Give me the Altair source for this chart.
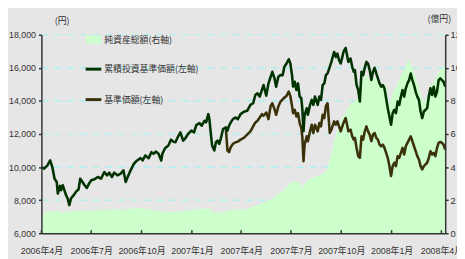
import altair as alt
import pandas as pd

start_date = "2006-04-01"

# 累積投資基準価額 (days since start, yen)
c_days = [0, 5, 11, 16, 20, 24, 28, 30, 34, 36, 39, 43, 45, 48, 51, 54, 59, 63, 68, 71, 75, 79, 83, 87, 91, 97,
          103, 109, 115, 120, 124, 129, 133, 139, 145, 150, 154, 159, 163, 169, 175, 181, 185, 190, 196, 201, 205,
          209, 214, 219, 221, 226, 232, 237, 241, 245, 250, 254, 259, 263, 268, 274, 279, 283, 289, 293, 298, 301,
          305, 307, 310, 312, 316, 319, 322, 325, 328, 332, 337, 340, 343, 346, 350, 355, 359, 364, 370, 376, 382,
          387, 391, 395, 399, 403, 406, 411, 415, 419, 422, 426, 429, 433, 437, 441, 444, 448, 452, 455, 458, 460,
          463, 466, 469, 472, 475, 477, 479, 481, 485, 487, 491, 494, 497, 500, 505, 508, 511, 514, 517, 520, 523,
          527, 530, 535, 538, 541, 544, 547, 550, 552, 556, 558, 561, 565, 568, 571, 573, 576, 579, 582, 585, 588,
          591, 594, 597, 600, 603, 606, 609, 612, 615, 618, 621, 624, 627, 630, 633, 636, 639, 642, 645, 648, 651,
          654, 657, 660, 663, 666, 669, 672, 675, 678, 681, 684, 687, 690, 693, 696, 699, 702, 705, 708, 711, 714,
          717, 720, 723, 726, 729, 732, 735, 738]
c_values = [10000, 9900, 10100, 10400, 10000, 9300, 9100, 8400, 8860, 8600, 8900, 8500, 8300, 8100, 7700, 8100,
            8300, 8500, 8660, 9300, 9100, 8900, 8740, 9000, 9200, 9260, 9400, 9300, 9700, 9500, 9660, 9400, 9660,
            9500, 9600, 9800, 9100, 9500, 9800, 10200, 10400, 10540, 10400, 10700, 10540, 10900, 10800, 10940,
            10800, 10400, 10800, 11140, 11300, 11660, 11540, 11500, 11860, 12100, 11600, 11740, 12000, 12200, 12100,
            12540, 12660, 12500, 12800, 12700, 13200, 12900, 11900, 11300, 11000, 11500, 11600, 11400, 11740, 12300,
            12400, 12200, 12500, 12700, 12900, 13000, 12900, 13200, 13340, 13400, 13760, 13860, 14360, 14460, 14260,
            14660, 14960, 14320, 15060, 15460, 15760, 15360, 14860, 15460, 15560, 15560, 16060, 16260, 16520, 16260,
            15560, 14860, 15160, 14660, 15060, 14260, 14160, 13460, 12160, 13160, 13560, 13160, 13760, 14060, 13760,
            14260, 13760, 14260, 14060, 14960, 15060, 15560, 15660, 16060, 16360, 16960, 16660, 16860, 16460, 16260,
            16660, 16960, 17200, 16860, 16360, 16560, 16060, 15760, 15860, 14960, 14660, 13960, 15760, 15560, 16000,
            16360, 16260, 15860, 15260, 15760, 16000, 15660, 15360, 15060, 14860, 14960, 14760, 14160, 13560, 13060,
            12560, 13260, 13460, 13260, 13960, 13760, 14260, 14660, 14260, 14760, 15060, 15260, 15660, 15260, 14960,
            14560, 14260, 14060, 13360, 12960, 13360, 13460, 13560, 14260, 14760, 14360, 14860, 14260, 14560, 15260,
            15360, 15260, 15160, 14860]

# 基準価額 (days since start, yen) — identical to the line above before the first split
b_days = [337, 340, 343, 346, 350, 355, 359, 364, 370, 376, 382, 387, 391, 395, 399, 403, 406, 411, 415, 419, 422,
          426, 429, 433, 437, 441, 444, 448, 452, 455, 458, 460, 463, 466, 469, 472, 475, 477, 479, 481, 485, 487,
          491, 494, 497, 500, 505, 508, 511, 514, 517, 520, 523, 527, 530, 535, 538, 541, 544, 547, 550, 552, 556,
          558, 561, 565, 568, 571, 573, 576, 579, 582, 585, 588, 591, 594, 597, 600, 603, 606, 609, 612, 615, 618,
          621, 624, 627, 630, 633, 636, 639, 642, 645, 648, 651, 654, 657, 660, 663, 666, 669, 672, 675, 678, 681,
          684, 687, 690, 693, 696, 699, 702, 705, 708, 711, 714, 717, 720, 723, 726, 729, 732, 735, 738]
b_values = [12400, 11000, 10900, 11200, 11400, 11500, 11540, 11660, 11760, 11960, 12160, 12460, 12700, 12800, 13000,
            13200, 13100, 13300, 12900, 13700, 13860, 13500, 13160, 13660, 13960, 14100, 14200, 14300, 14560, 14300,
            13700, 13260, 13460, 13060, 13260, 12660, 12360, 11760, 10360, 11360, 11860, 11560, 12160, 12560, 12060,
            12560, 12160, 12660, 12460, 13160, 12960, 13700, 13860, 12060, 12260, 12760, 12560, 12760, 12460, 12160,
            12460, 12660, 12960, 12660, 12160, 12260, 11860, 11660, 11760, 11160, 10660, 10560, 11860, 11660, 12160,
            12460, 12160, 11960, 11560, 11960, 12060, 11760, 11660, 11360, 11260, 11360, 11160, 10860, 10560, 10060,
            9460, 10060, 10260, 10060, 10660, 10560, 10860, 11160, 10760, 11260, 11460, 11660, 11860, 11560, 11260,
            10960, 10660, 10460, 10060, 9860, 10060, 10160, 10260, 10560, 10960, 10760, 10860, 10660, 11160, 11460,
            11520, 11460, 11360, 11060]

# 純資産総額 (days since start, 億円)
a_days = [0, 2, 9, 14, 20, 27, 32, 41, 50, 59, 72, 86, 104, 122, 135, 149, 163, 181, 194, 212, 230, 248, 265, 283,
          301, 307, 313, 331, 343, 355, 373, 385, 397, 409, 421, 433, 445, 457, 463, 472, 477, 481, 486, 493, 502,
          511, 520, 524, 527, 531, 535, 538, 544, 549, 556, 561, 567, 573, 579, 585, 591, 594, 600, 606, 612, 618,
          624, 630, 636, 642, 648, 654, 660, 666, 670, 675, 681, 687, 693, 699, 705, 711, 717, 723, 729, 735, 738]
a_values = [0.9, 1.0, 1.3, 1.35, 1.3, 1.35, 1.3, 1.23, 1.3, 1.3, 1.39, 1.35, 1.39, 1.42, 1.45, 1.4, 1.49, 1.52,
            1.47, 1.35, 1.29, 1.29, 1.38, 1.43, 1.49, 1.53, 1.29, 1.25, 1.38, 1.43, 1.43, 1.58, 1.72, 1.88, 2.08,
            2.38, 2.67, 3.1, 3.1, 3.05, 2.7, 2.97, 3.2, 3.33, 3.45, 3.56, 3.7, 4.0, 4.5, 4.95, 5.5, 5.9, 6.5, 6.9,
            7.3, 7.6, 7.85, 8.0, 8.22, 8.81, 9.5, 9.55, 9.21, 9.51, 9.31, 9.11, 9.01, 8.91, 7.72, 8.51, 8.8, 9.31,
            9.7, 10.1, 10.5, 10.3, 9.7, 9.11, 8.32, 7.92, 8.2, 8.91, 9.11, 9.51, 9.9, 10.0, 9.95]

x_tick_dates = ["2006-04-01", "2006-07-01", "2006-10-01", "2007-01-01", "2007-04-01",
                "2007-07-01", "2007-10-01", "2008-01-01", "2008-04-01"]
left_ticks = [6000, 8000, 10000, 12000, 14000, 16000, 18000]
grid_values = [8000, 10000, 12000, 14000, 16000, 18000]
right_ticks = [0, 2, 4, 6, 8, 10, 12]
legend_labels = ["純資産総額(右軸)", "累積投資基準価額(左軸)", "基準価額(左軸)"]
left_unit = "(円)"
right_unit = "(億円)"

t0 = pd.Timestamp(start_date)
c_df = pd.DataFrame({"date": t0 + pd.to_timedelta(c_days, unit="D"), "v": c_values})
b_df = pd.DataFrame({"date": t0 + pd.to_timedelta(b_days, unit="D"), "v": b_values})
a_df = pd.DataFrame({"date": t0 + pd.to_timedelta(a_days, unit="D"), "v": a_values})
tick_df = pd.DataFrame({"date": pd.to_datetime(x_tick_dates)})
grid_df = pd.DataFrame({"g": grid_values})
one = pd.DataFrame({"k": [0]})

CJK = "Noto Sans CJK JP"
NUM = "Liberation Sans, Noto Sans CJK JP"
AX = "#333333"
GREEN_FILL = "#ccffcc"
C_COLOR = "#003300"
B_COLOR = "#3b320a"
GRID = "#a6f2f2"
W, H = 411, 202

def dt(s):
    ts = pd.Timestamp(s)
    return alt.DateTime(year=ts.year, month=ts.month, date=ts.day)

x_scale = alt.Scale(domain=[dt("2006-04-01"), dt("2008-04-08")], nice=False)
x_axis = alt.Axis(values=[dt(s) for s in x_tick_dates], format="%Y年%-m月", labelFont=NUM,
                  labelFontSize=9, labelColor=AX, ticks=False, tickSize=0, domainColor=AX, domainWidth=1.5,
                  labelPadding=14, grid=False, title=None, labelFlush=False, labelOverlap=False,
                  labelAlign="center", labelBaseline="top", zindex=1)
left_scale = alt.Scale(domain=[6000, 18000], nice=False, zero=False)
right_scale = alt.Scale(domain=[0, 12], nice=False)

X = alt.X("date:T", scale=x_scale, axis=x_axis)

grid = alt.Chart(grid_df).mark_rule(color=GRID, strokeWidth=1.2, strokeDash=[7, 6], opacity=1).encode(
    x=alt.value(0), x2=alt.value(W),
    y=alt.Y("g:Q", scale=left_scale, axis=None)
)

area = alt.Chart(a_df).mark_area(color=GREEN_FILL, opacity=1).encode(
    x=X,
    y=alt.Y("v:Q", scale=right_scale,
            axis=alt.Axis(orient="right", values=right_ticks, format="d", tickSize=3, tickColor=AX,
                          tickWidth=1.5, domainColor=AX, domainWidth=1.5, labelPadding=2, labelFont=NUM,
                          labelFontSize=9.5, labelColor=AX, grid=False, title=None, zindex=1,
                          labelFlush=False)),
)

b_line = alt.Chart(b_df).mark_line(color=B_COLOR, strokeWidth=2.6, strokeJoin="round").encode(
    x=X, y=alt.Y("v:Q", scale=left_scale, axis=None)
)

c_line = alt.Chart(c_df).mark_line(color=C_COLOR, strokeWidth=2.6, strokeJoin="round").encode(
    x=X,
    y=alt.Y("v:Q", scale=left_scale,
            axis=alt.Axis(orient="left", values=left_ticks, format=",.0f", tickSize=3, tickColor=AX,
                          tickWidth=1.5, domainColor=AX, domainWidth=1.5, labelPadding=3, labelFont=NUM,
                          labelFontSize=9, labelColor=AX, grid=False, title=None, zindex=1,
                          labelFlush=False)),
)

xticks = alt.Chart(tick_df).mark_rule(color=AX, strokeWidth=1.5).encode(
    x=X, y=alt.value(H - 3), y2=alt.value(H)
)

leg_rect = alt.Chart(one).mark_rect(color=GREEN_FILL).encode(
    x=alt.value(45), x2=alt.value(61), y=alt.value(1), y2=alt.value(9)
)
leg_c = alt.Chart(one).mark_rule(color=C_COLOR, strokeWidth=3).encode(
    x=alt.value(45), x2=alt.value(61), y=alt.value(35)
)
leg_b = alt.Chart(one).mark_rule(color=B_COLOR, strokeWidth=3).encode(
    x=alt.value(45), x2=alt.value(61), y=alt.value(66)
)
txt_style = dict(font=CJK, fontSize=9, color=AX, align="left", baseline="middle")
leg_t1 = alt.Chart(one).mark_text(**txt_style).encode(x=alt.value(64), y=alt.value(5), text=alt.value(legend_labels[0]))
leg_t2 = alt.Chart(one).mark_text(**txt_style).encode(x=alt.value(64), y=alt.value(35), text=alt.value(legend_labels[1]))
leg_t3 = alt.Chart(one).mark_text(**txt_style).encode(x=alt.value(64), y=alt.value(66), text=alt.value(legend_labels[2]))
unit_l = alt.Chart(one).mark_text(font=CJK, fontSize=9, color=AX, align="center", baseline="middle").encode(
    x=alt.value(21), y=alt.value(-14), text=alt.value(left_unit))
unit_r = alt.Chart(one).mark_text(font=CJK, fontSize=9, color=AX, align="center", baseline="middle").encode(
    x=alt.value(405), y=alt.value(-16), text=alt.value(right_unit))

chart = alt.layer(
    grid, area, b_line, c_line, xticks,
    leg_rect, leg_c, leg_b, leg_t1, leg_t2, leg_t3, unit_l, unit_r
).resolve_scale(y="independent").properties(
    width=W, height=H,
    autosize=alt.AutoSizeParams(type="none"),
    padding={"left": 34, "top": 25, "right": 12, "bottom": 24},
    background="#e6e6e6",
).configure_view(stroke=None)

chart.save("out.html", embed_options={"renderer": "svg", "actions": False})
